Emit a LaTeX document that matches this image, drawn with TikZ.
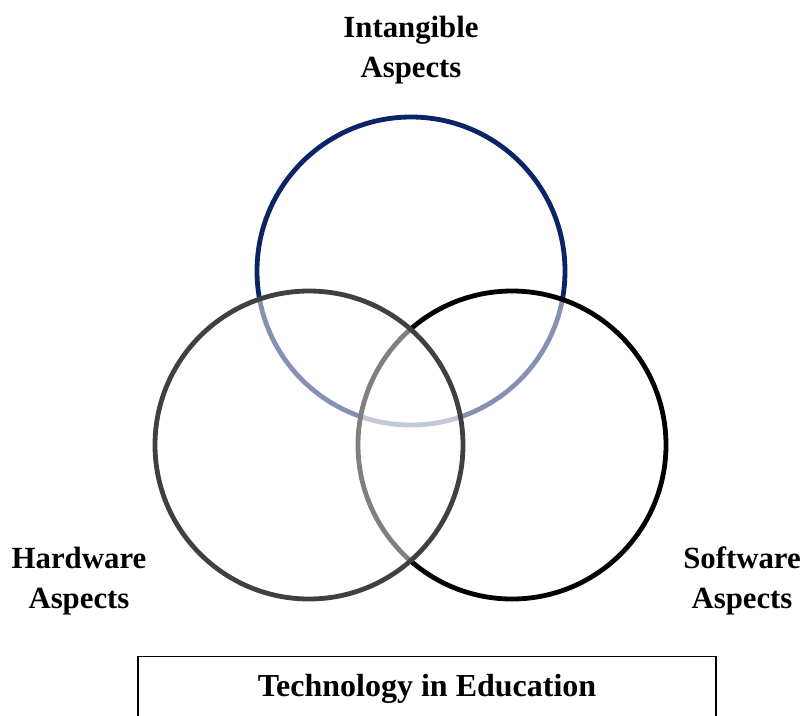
\documentclass[tikz,border=0pt]{standalone}
\usepackage{fontspec}
\setmainfont{Liberation Serif}
\definecolor{navy}{HTML}{0B2466}
\definecolor{darkgrey}{HTML}{404040}
\begin{document}
\begin{tikzpicture}[x=1pt,y=-1pt,
  ring/.style={circle, draw=#1, line width=4.8pt, minimum size=308pt, inner sep=0pt,
               fill=white, fill opacity=0.5, draw opacity=1},
  label/.style={align=center, font=\fontsize{30.8}{40}\selectfont\bfseries, inner sep=0pt},
  frame/.style={draw=black, line width=1.4pt, minimum width=578pt, minimum height=68pt,
                inner sep=0pt}]
\useasboundingbox (0,0) rectangle (803,715);
\clip (0,0) rectangle (803,715);
% the three overlapping aspect circles, each veiling what lies beneath it
\node[ring=navy] (intangible) at (411,271) {};
\node[ring=black] (software) at (512,445) {};
\node[ring=darkgrey] (hardware) at (309,445) {};
% captions
\node[label] (tIntangible) at (411,50) {Intangible\\Aspects};
\node[label] (tHardware) at (79,581) {Hardware\\Aspects};
\node[label] (tSoftware) at (742,581) {Software\\Aspects};
% title frame, open at the lower edge
\node[frame, anchor=north] (title) at (427,656) {};
\node[font=\fontsize{32}{40}\selectfont\bfseries, inner sep=0pt] (titletext) at (427,689) {Technology in Education};
\end{tikzpicture}
\end{document}
